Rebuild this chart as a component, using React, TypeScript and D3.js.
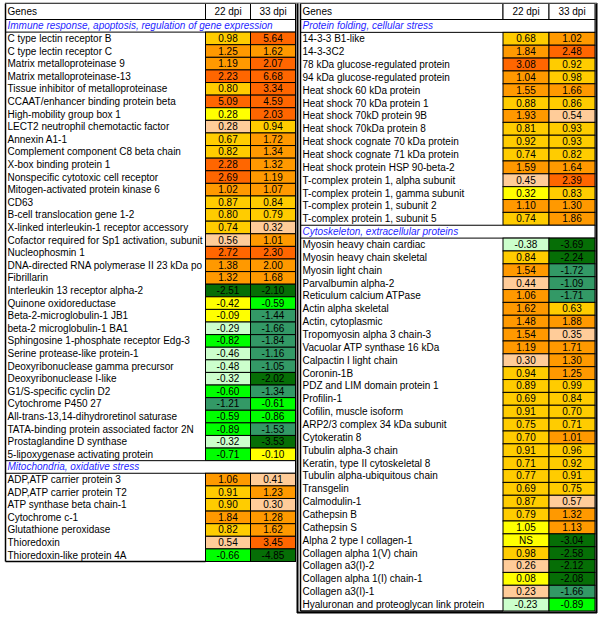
import React from "react";
import * as d3 from "d3";

// ---------- DATA ----------
const colHeaders = ["22 dpi", "33 dpi"];

const immuneTitle = "Immune response, apoptosis, regulation of gene expression";
const immuneGenes = [
  "C type lectin receptor B", "C type lectin receptor C", "Matrix metalloproteinase 9",
  "Matrix metalloproteinase-13", "Tissue inhibitor of metalloproteinase",
  "CCAAT/enhancer binding protein beta", "High-mobility group box 1",
  "LECT2 neutrophil chemotactic factor", "Annexin A1-1", "Complement component C8 beta chain",
  "X-box binding protein 1", "Nonspecific cytotoxic cell receptor",
  "Mitogen-activated protein kinase 6", "CD63", "B-cell translocation gene 1-2",
  "X-linked interleukin-1 receptor accessory", "Cofactor required for Sp1 activation, subunit",
  "Nucleophosmin 1", "DNA-directed RNA polymerase II 23 kDa po", "Fibrillarin",
  "Interleukin 13 receptor alpha-2", "Quinone oxidoreductase", "Beta-2-microglobulin-1 JB1",
  "beta-2 microglobulin-1 BA1", "Sphingosine 1-phosphate receptor Edg-3",
  "Serine protease-like protein-1", "Deoxyribonuclease gamma precursor",
  "Deoxyribonuclease I-like", "G1/S-specific cyclin D2", "Cytochrome P450 27",
  "All-trans-13,14-dihydroretinol saturase", "TATA-binding protein associated factor 2N",
  "Prostaglandine D synthase", "5-lipoxygenase activating protein",
];
const immune22 = [0.98, 1.25, 1.19, 2.23, 0.80, 5.09, 0.28, 0.28, 0.67, 0.82, 2.28, 2.69, 1.02, 0.87, 0.80, 0.74, 0.56, 2.72, 1.38, 1.32, -2.51, -0.42, -0.09, -0.29, -0.82, -0.46, -0.48, -0.32, -0.60, -1.21, -0.59, -0.89, -0.32, -0.71];
const immune33 = [5.64, 1.62, 2.07, 6.68, 3.34, 4.59, 2.03, 0.94, 1.72, 1.34, 1.32, 1.19, 1.07, 0.84, 0.79, 0.32, 1.01, 2.30, 2.00, 1.68, -2.10, -0.59, -1.44, -1.66, -1.84, -1.16, -1.05, -2.02, -1.34, -0.61, -0.86, -1.53, -3.53, -0.10];
const immuneC22 = "GOODGDYPGGDDOGGGPDOOKYYLBLLLBMBBLB";
const immuneC33 = "DODDDDDGOOOOOGGPODOOKBMMMMMKMBBMKY";

const mitoTitle = "Mitochondria, oxidative stress";
const mitoGenes = [
  "ADP,ATP carrier protein 3", "ADP,ATP carrier protein T2", "ATP synthase beta chain-1",
  "Cytochrome c-1", "Glutathione peroxidase", "Thioredoxin", "Thioredoxin-like protein 4A",
];
const mito22 = [1.06, 0.91, 0.90, 1.84, 0.82, 0.54, -0.66];
const mito33 = [0.41, 1.23, 0.30, 1.28, 1.62, 3.45, -4.85];
const mitoC22 = "OGGOGPB";
const mitoC33 = "POPOODK";

const foldTitle = "Protein folding, cellular stress";
const foldGenes = [
  "14-3-3 B1-like", "14-3-3C2", "78 kDa glucose-regulated protein",
  "94 kDa glucose-regulated protein", "Heat shock 60 kDa protein", "Heat shock 70 kDa protein 1",
  "Heat shock 70kD protein 9B", "Heat shock 70kDa protein 8", "Heat shock cognate 70 kDa protein",
  "Heat shock cognate 71 kDa protein", "Heat shock protein HSP 90-beta-2",
  "T-complex protein 1, alpha subunit", "T-complex protein 1, gamma subunit",
  "T-complex protein 1, subunit 2", "T-complex protein 1, subunit 5",
];
const fold22 = [0.68, 1.84, 3.08, 1.04, 1.55, 0.88, 1.93, 0.81, 0.92, 0.74, 1.59, 0.45, 0.32, 1.10, 0.74];
const fold33 = [1.02, 2.48, 0.92, 0.98, 1.66, 0.86, 0.54, 0.93, 0.93, 0.82, 1.64, 2.39, 0.83, 1.30, 1.86];
const foldC22 = "GODOOGOGGGOPYOG";
const foldC33 = "ODGGOGPGGGODGOO";

const cytoTitle = "Cytoskeleton, extracellular proteins";
const cytoGenes = [
  "Myosin heavy chain cardiac", "Myosin heavy chain skeletal", "Myosin light chain",
  "Parvalbumin alpha-2", "Reticulum calcium ATPase", "Actin alpha skeletal", "Actin, cytoplasmic",
  "Tropomyosin alpha 3 chain-3", "Vacuolar ATP synthase 16 kDa", "Calpactin I light chain",
  "Coronin-1B", "PDZ and LIM domain protein 1", "Profilin-1", "Cofilin, muscle isoform",
  "ARP2/3 complex 34 kDa subunit", "Cytokeratin 8", "Tubulin alpha-3 chain",
  "Keratin, type II cytoskeletal 8", "Tubulin alpha-ubiquitous chain", "Transgelin",
  "Calmodulin-1", "Cathepsin B", "Cathepsin S", "Alpha 2 type I collagen-1",
  "Collagen alpha 1(V) chain", "Collagen a3(I)-2", "Collagen alpha 1(I) chain-1",
  "Collagen a3(I)-1", "Hyaluronan and proteoglycan link protein",
];
const cyto22 = [-0.38, 0.84, 1.54, 0.44, 1.06, 1.62, 1.48, 1.54, 1.19, 0.30, 0.94, 0.89, 0.69, 0.91, 0.75, 0.70, 0.91, 0.71, 0.77, 0.69, 0.87, 0.79, 1.05, null, 0.98, 0.26, 0.08, 0.23, -0.23];
const cyto33 = [-3.69, -2.24, -1.72, -1.09, -1.71, 0.63, 1.88, 0.35, 1.71, 1.30, 1.25, 0.99, 0.84, 0.70, 0.71, 1.01, 0.96, 0.92, 0.91, 0.75, 0.57, 1.32, 1.13, -3.04, -2.58, -2.12, -2.08, -1.66, -0.89];
const cytoC22 = "LGOPOOOOOPGGGGGGGGGGGGYYGPYPL";
const cytoC33 = "KKMMMGOPOOOGGGGOGGGGPOOKKKKMB";

const colorCodes = ["G", "O", "D", "Y", "P", "L", "B", "M", "K"];
const colorValues = ["#FFCC00", "#FF9900", "#FF6600", "#FFFF00", "#FFCC99", "#CCFFCC", "#00FF00", "#339966", "#066E06"];

// ---------- LAYOUT ----------
type Row =
  | { kind: "cat"; label: string }
  | { kind: "gene"; label: string; v: (number | null)[]; c: string[] };

function section(title: string, genes: string[], a: (number | null)[], b: (number | null)[], ca: string, cb: string): Row[] {
  const rows: Row[] = [{ kind: "cat", label: title }];
  genes.forEach((g, i) => rows.push({ kind: "gene", label: g, v: [a[i], b[i]], c: [ca[i], cb[i]] }));
  return rows;
}

const leftRows = [
  ...section(immuneTitle, immuneGenes, immune22, immune33, immuneC22, immuneC33),
  ...section(mitoTitle, mitoGenes, mito22, mito33, mitoC22, mitoC33),
];
const rightRows = [
  ...section(foldTitle, foldGenes, fold22, fold33, foldC22, foldC33),
  ...section(cytoTitle, cytoGenes, cyto22, cyto33, cytoC22, cytoC33),
];

const color = d3.scaleOrdinal<string, string>().domain(colorCodes).range(colorValues);
const fmt = (v: number | null) => (v === null ? "NS" : v.toFixed(2));

const FONT = "'Liberation Sans', Arial, sans-serif";

function Panel({ rows, x0, xGene, xEnd, top, headerBottom, bottom }: {
  rows: Row[]; x0: number; xGene: number; xEnd: number; top: number; headerBottom: number; bottom: number;
}) {
  const y = d3.scaleLinear().domain([0, rows.length]).range([headerBottom, bottom]);
  const xc = d3.scaleBand<string>().domain(colHeaders).range([xGene, xEnd]);
  const h = y(1) - y(0);
  return (
    <g fontFamily={FONT} fontSize={10}>
      <rect x={x0} y={top} width={xGene - x0} height={headerBottom - top} fill="#fff" stroke="#000" strokeWidth={1} />
      <text x={x0 + 2} y={(top + headerBottom) / 2} dy="0.35em" fill="#000">Genes</text>
      {colHeaders.map((c) => (
        <g key={c}>
          <rect x={xc(c)} y={top} width={xc.bandwidth()} height={headerBottom - top} fill="#fff" stroke="#000" strokeWidth={1} />
          <text x={(xc(c) as number) + xc.bandwidth() / 2} y={(top + headerBottom) / 2} dy="0.35em" textAnchor="middle" fill="#000">{c}</text>
        </g>
      ))}
      {rows.map((r, i) => {
        const ry = y(i);
        if (r.kind === "cat") {
          return (
            <g key={i}>
              <rect x={x0} y={ry} width={xEnd - x0} height={h} fill="#fff" stroke="#000" strokeWidth={1} />
              <text x={x0 + 2} y={ry + h / 2} dy="0.35em" fill="#1f1fff" fontStyle="italic">{r.label}</text>
            </g>
          );
        }
        return (
          <g key={i}>
            <text x={x0 + 2} y={ry + h / 2} dy="0.35em" fill="#000">{r.label}</text>
            {colHeaders.map((c, j) => (
              <g key={c}>
                <rect x={xc(c)} y={ry} width={xc.bandwidth()} height={h} fill={color(r.c[j])} stroke="#000" strokeWidth={1} />
                <text x={(xc(c) as number) + xc.bandwidth() / 2} y={ry + h / 2} dy="0.35em" textAnchor="middle" fill="#000">{fmt(r.v[j])}</text>
              </g>
            ))}
          </g>
        );
      })}
      <line x1={x0} x2={x0} y1={top} y2={bottom} stroke="#000" strokeWidth={1.5} />
      <line x1={x0} x2={xGene} y1={bottom} y2={bottom} stroke="#000" strokeWidth={1.5} />
    </g>
  );
}

export default function App() {
  return (
    <svg width={600} height={619} style={{ display: "block", position: "absolute", left: 0, top: 0 }}>
      <rect width={600} height={619} fill="#fff" />
      <Panel rows={leftRows} x0={5.5} xGene={205.5} xEnd={295.5} top={3.5} headerBottom={19.5} bottom={561.5} />
      <Panel rows={rightRows} x0={300.5} xGene={503} xEnd={595} top={3.5} headerBottom={19.5} bottom={611} />
      <line x1={297.5} x2={297.5} y1={3} y2={613} stroke="#000" strokeWidth={2} />
      <line x1={297} x2={597} y1={612.5} y2={612.5} stroke="#000" strokeWidth={2} />
      <line x1={596.5} x2={596.5} y1={3} y2={613} stroke="#000" strokeWidth={2} />
      <line x1={5} x2={597} y1={3} y2={3} stroke="#888" strokeWidth={1} />
    </svg>
  );
}
